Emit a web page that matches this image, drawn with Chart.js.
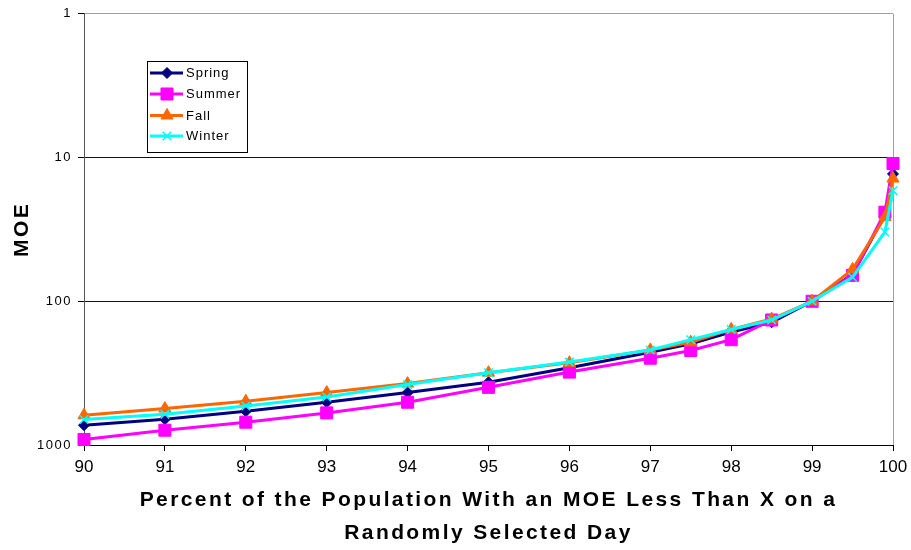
<!DOCTYPE html>
<html>
<head>
<meta charset="utf-8">
<script src="https://cdn.jsdelivr.net/npm/chart.js@4/dist/chart.umd.min.js"></script>
<style>
  html, body { margin: 0; padding: 0; background: #fff; }
  canvas { display: block; }
</style>
</head>
<body>
<canvas id="c" width="911" height="550"></canvas>
<script>
// ---- data ----
const percentiles = [90, 91, 92, 93, 94, 95, 96, 97, 97.5, 98, 98.5, 99, 99.5, 99.9, 100];
const spring = [728, 661, 582, 504, 432, 366, 290, 226, 198, 164, 140, 100, 65, 25, 13];
const summer = [915, 789, 694, 598, 504, 397, 311, 249, 220, 185, 135, 100, 66, 24, 11];
const fall   = [621, 558, 496, 432, 374, 314, 268, 218, 193, 157, 133, 100, 60, 26, 14];
const winter = [665, 611, 535, 463, 380, 314, 265, 218, 185, 157, 135, 100, 68, 33, 17];
const seriesNames = ['Spring', 'Summer', 'Fall', 'Winter'];
const yTickValues = [1, 10, 100, 1000];
const xTitle = ['Percent of the Population With an MOE Less Than X on a', 'Randomly Selected Day'];
const yTitle = 'MOE';

const FONT = "'Liberation Sans', Arial, sans-serif";

function pts(vals) { return percentiles.map((x, i) => ({ x: x, y: vals[i] })); }

const styles = [
  { color: '#000080', pointStyle: 'rectRot', radius: 5.5, order: 3 },
  { color: '#FF00FF', pointStyle: 'rect', radius: 8.5, order: 2 },
  { color: '#FF6600', pointStyle: 'triangle', radius: 7, order: 1 },
  { color: '#00FFFF', pointStyle: 'crossRot', radius: 6, order: 0 }
];
const values = [spring, summer, fall, winter];

const datasets = seriesNames.map((name, i) => ({
  label: name,
  data: pts(values[i]),
  borderColor: styles[i].color,
  backgroundColor: styles[i].color,
  pointBackgroundColor: styles[i].color,
  pointBorderColor: styles[i].color,
  pointStyle: styles[i].pointStyle,
  pointRadius: styles[i].radius,
  pointBorderWidth: styles[i].pointStyle === 'crossRot' ? 1.5 : 1,
  borderWidth: 3,
  tension: 0,
  fill: false,
  clip: false,
  order: styles[i].order
}));

// letter-spaced axis titles and y labels (Excel-like)
const textSpacing = {
  id: 'textSpacing',
  beforeDraw(chart) {
    Object.values(chart.scales).forEach(s => {
      if (s._spPatched) return;
      const origT = s.drawTitle;
      s.drawTitle = function () {
        this.ctx.save();
        this.ctx.letterSpacing = '2.4px';
        origT.apply(this, arguments);
        this.ctx.restore();
      };
      if (s.axis === 'y') {
        const origL = s.drawLabels;
        s.drawLabels = function () {
          this.ctx.save();
          this.ctx.letterSpacing = '1.5px';
          origL.apply(this, arguments);
          this.ctx.restore();
        };
      }
      s._spPatched = true;
    });
  }
};

function drawMarker(ctx, style, r, x, y, color, bw) {
  if (Chart.helpers && Chart.helpers.drawPoint) {
    ctx.save();
    ctx.fillStyle = color; ctx.strokeStyle = color; ctx.lineWidth = bw;
    Chart.helpers.drawPoint(ctx, { pointStyle: style, radius: r, rotation: 0, borderWidth: bw }, x, y);
    ctx.restore();
  }
}

// in-plot boxed legend built from the datasets
const boxLegend = {
  id: 'boxLegend',
  afterDraw(chart) {
    const ctx = chart.ctx;
    const bx = 147.5, by = 61.5, bw = 100, bh = 91;
    ctx.save();
    ctx.fillStyle = '#fff';
    ctx.fillRect(bx, by, bw, bh);
    ctx.strokeStyle = '#000';
    ctx.lineWidth = 1;
    ctx.strokeRect(bx, by, bw, bh);
    const rows = [73, 94, 115.5, 136];
    chart.data.datasets.forEach((ds, i) => {
      const y = rows[i];
      ctx.strokeStyle = ds.borderColor;
      ctx.lineWidth = 3;
      ctx.beginPath();
      ctx.moveTo(150, y); ctx.lineTo(183, y);
      ctx.stroke();
      drawMarker(ctx, ds.pointStyle, ds.pointRadius, 167, y, ds.borderColor, ds.pointBorderWidth);
      ctx.fillStyle = '#000';
      ctx.font = '13px ' + FONT;
      ctx.letterSpacing = '1px';
      ctx.textAlign = 'left';
      ctx.textBaseline = 'middle';
      ctx.fillText(ds.label, 186, y + 0.5);
    });
    ctx.restore();
  }
};

new Chart(document.getElementById('c'), {
  type: 'line',
  data: { datasets: datasets },
  plugins: [textSpacing, boxLegend],
  options: {
    responsive: false,
    animation: false,
    events: [],
    layout: { padding: { top: 12, right: 18, left: 0, bottom: 0 } },
    plugins: { legend: { display: false }, tooltip: { enabled: false } },
    scales: {
      x: {
        type: 'linear',
        min: 90,
        max: 100,
        afterFit(scale) { scale.height = 105; scale.paddingRight = 0; scale.paddingLeft = 0; },
        ticks: {
          stepSize: 1,
          color: '#000',
          padding: 6,
          font: { family: FONT, size: 17 },
          maxRotation: 0
        },
        grid: {
          color: (c) => (c.tick && c.tick.value === 100 ? '#a0a0a0' : 'rgba(0,0,0,0)'),
          tickColor: '#000',
          tickLength: 6,
          lineWidth: 1
        },
        border: { color: '#000', width: 1 },
        title: {
          display: true,
          text: xTitle,
          color: '#000',
          font: { family: FONT, size: 21, weight: 'bold', lineHeight: 1.57 },
          padding: { top: 0, bottom: 0 }
        }
      },
      y: {
        type: 'logarithmic',
        min: 1,
        max: 1000,
        reverse: true,
        afterFit(scale) { scale.width = 84; },
        afterBuildTicks(scale) { scale.ticks = yTickValues.map(v => ({ value: v })); },
        ticks: {
          color: '#000',
          padding: 6,
          font: { family: FONT, size: 13 },
          callback: (v) => String(v)
        },
        grid: {
          color: (c) => {
            const v = c.tick && c.tick.value;
            if (v === 10 || v === 100) return '#111';
            if (v === 1) return '#a0a0a0';
            return 'rgba(0,0,0,0)';
          },
          tickColor: '#000',
          tickLength: 6,
          lineWidth: 1
        },
        border: { color: '#555', width: 1 },
        title: {
          display: true,
          text: yTitle,
          color: '#000',
          font: { family: FONT, size: 21, weight: 'bold', lineHeight: 1.2 },
          padding: { top: 10, bottom: 0 }
        }
      }
    }
  }
});
</script>
</body>
</html>
